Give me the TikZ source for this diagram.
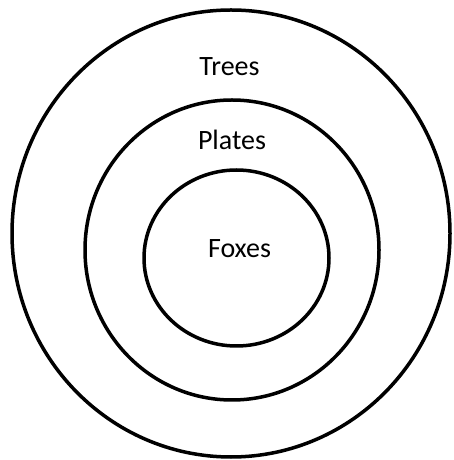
\documentclass[tikz,border=0pt]{standalone}
\usepackage{fontspec}
\setmainfont{Carlito}
\usepackage{tikz}

\begin{document}
\begin{tikzpicture}[x=1pt,y=1pt]
		\useasboundingbox (0,0) rectangle (454,460);
		\draw[line width=3.5pt] (231,226.5) ellipse (219pt and 223.5pt);
		\node[anchor=base] (trees) at (229.5,384) {\fontsize{28}{34}\selectfont Trees};
		\draw[line width=3.5pt] (232,210) ellipse (147pt and 150pt);
		\node[anchor=base] (plates) at (232,310) {\fontsize{28}{34}\selectfont Plates};
		\draw[line width=3.5pt] (236.5,202) ellipse (92.5pt and 88pt);
		\node[anchor=base] (foxes) at (239.5,202) {\fontsize{28}{34}\selectfont Foxes};
	\end{tikzpicture}
\end{document}
